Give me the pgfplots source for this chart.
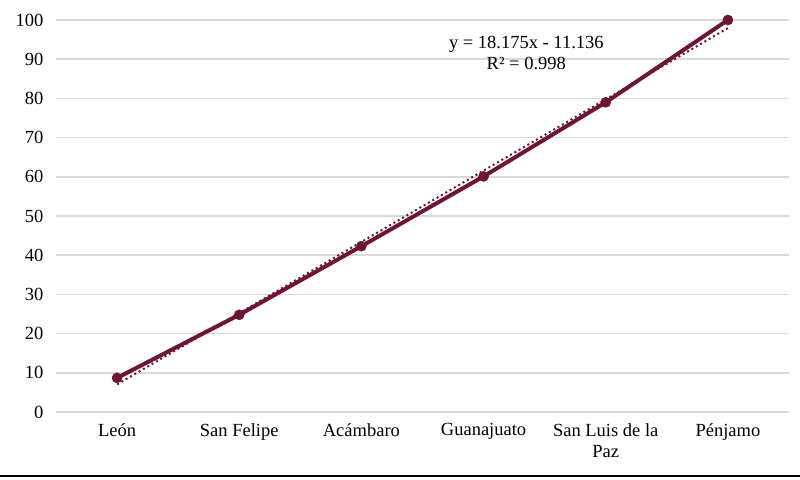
\documentclass[border=0pt]{standalone}
\usepackage{fontspec}
\setmainfont{Liberation Serif}
\usepackage{pgfplots}
\pgfplotsset{compat=1.18}
\definecolor{maroon}{HTML}{6E1434}
\definecolor{gridc}{HTML}{D9D9D9}

\begin{document}
\fontsize{9.25pt}{11pt}\selectfont
\begin{tikzpicture}
\useasboundingbox (-28pt,-33.5pt) rectangle (372pt,206pt);
\begin{axis}[
  at={(0,0)}, anchor=south west,
  scale only axis, width=366.5pt, height=196pt,
  xmin=-0.5, xmax=5.5, ymin=0, ymax=100,
  xtick={0,1,2,3,4,5},
  xticklabels={León, San Felipe, Acámbaro, Guanajuato, {San Luis de la\\Paz}, Pénjamo},
  x tick label style={align=center, font=\fontsize{9.25pt}{10.5pt}\selectfont, yshift=-2.5pt},
  ytick={0,10,...,100},
  y tick label style={font=\fontsize{9.25pt}{11pt}\selectfont, xshift=-3pt},
  /pgf/number format/assume math mode=true,
  axis line style={draw=none},
  tick style={draw=none},
  ymajorgrids, grid style={gridc, line width=0.75pt},
  clip=false,
]
\addplot[maroon, line width=2pt, mark=*, mark size=2.5pt, mark options={line width=0.3pt}] coordinates {
  (0,8.7) (1,24.8) (2,42.3) (3,60.1) (4,79.0) (5,100)
};
\addplot[maroon, line width=1pt, dash pattern=on 1pt off 1.5pt] coordinates {(0,7.04) (5,97.94)};
\node[align=center, font=\fontsize{9.25pt}{10.5pt}\selectfont] at (axis cs:3.35,91.5) {y = 18.175x - 11.136\\R² = 0.998};
\end{axis}
\draw[black, line width=1pt] (-28pt,-32pt) -- (372pt,-32pt);
\end{tikzpicture}
\end{document}
